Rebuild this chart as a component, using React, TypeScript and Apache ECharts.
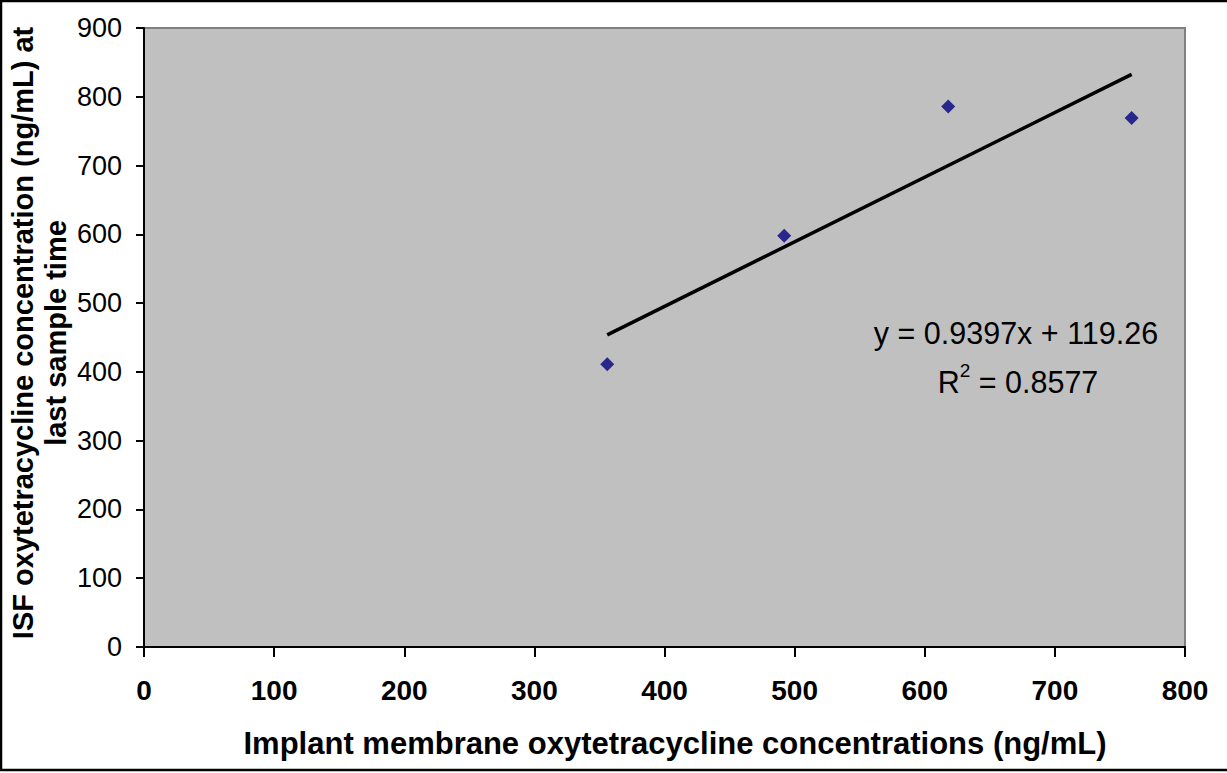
import React, { useEffect, useRef } from "react";
import * as echarts from "echarts";

// Implant membrane vs. ISF oxytetracycline concentrations (ng/mL)
const membraneConc: number[] = [356, 492, 618, 759];
const isfConc: number[] = [411, 598, 786, 769];

// Linear trendline reported on the chart
const slope = 0.9397;
const intercept = 119.26;
const rSquared = "0.8577";

const xTicks = { min: 0, max: 800, interval: 100 };
const yTicks = { min: 0, max: 900, interval: 100 };

const FONT = "'Liberation Sans', Arial, Helvetica, sans-serif";

export default function App() {
  const ref = useRef<HTMLDivElement>(null);

  useEffect(() => {
    if (!ref.current) return;
    const chart = echarts.init(ref.current, null, { renderer: "svg" });

    const xMin = Math.min(...membraneConc);
    const xMax = Math.max(...membraneConc);
    const trend = [
      [xMin, slope * xMin + intercept],
      [xMax, slope * xMax + intercept],
    ];

    chart.setOption({
      animation: false,
      backgroundColor: "#ffffff",
      textStyle: { fontFamily: FONT },
      grid: {
        left: 144,
        top: 28,
        width: 1041,
        height: 619,
        show: true,
        backgroundColor: "#c0c0c0",
        borderColor: "#808080",
        borderWidth: 2,
      },
      xAxis: {
        type: "value",
        min: xTicks.min,
        max: xTicks.max,
        interval: xTicks.interval,
        splitLine: { show: false },
        axisLine: { show: true, onZero: false, lineStyle: { color: "#000", width: 2 } },
        axisTick: { show: true, inside: false, length: 10, lineStyle: { color: "#000", width: 2 } },
        axisLabel: {
          color: "#000",
          fontSize: 28,
          fontWeight: "bold",
          fontFamily: FONT,
          margin: 29,
        },
      },
      yAxis: {
        type: "value",
        min: yTicks.min,
        max: yTicks.max,
        interval: yTicks.interval,
        splitLine: { show: false },
        axisLine: { show: true, onZero: false, lineStyle: { color: "#000", width: 2 } },
        axisTick: { show: true, inside: false, length: 8, lineStyle: { color: "#000", width: 2 } },
        axisLabel: {
          color: "#000",
          fontSize: 27,
          fontFamily: FONT,
          margin: 22,
        },
      },
      series: [
        {
          type: "line",
          data: trend,
          showSymbol: false,
          symbol: "none",
          lineStyle: { color: "#000", width: 3.5 },
          z: 2,
        },
        {
          type: "scatter",
          data: membraneConc.map((x, i) => [x, isfConc[i]]),
          symbol: "diamond",
          symbolSize: [14, 14],
          itemStyle: { color: "#000080" },
          z: 3,
        },
      ],
      graphic: [
        {
          type: "rect",
          shape: { x: 1, y: 1, width: 1240, height: 769 },
          style: { fill: "none", stroke: "#000", lineWidth: 2.5 },
          silent: true,
          z: 10,
        },
        {
          type: "text",
          x: 675,
          y: 743,
          style: {
            text: "Implant membrane oxytetracycline concentrations (ng/mL)",
            fontSize: 31,
            fontWeight: "bold",
            fontFamily: FONT,
            fill: "#000",
            align: "center",
            verticalAlign: "middle",
          },
        },
        {
          type: "text",
          x: 39,
          y: 333,
          rotation: Math.PI / 2,
          style: {
            text: "ISF oxytetracycline concentration (ng/mL) at\nlast sample time",
            fontSize: 29,
            lineHeight: 33,
            fontWeight: "bold",
            fontFamily: FONT,
            fill: "#000",
            align: "center",
            verticalAlign: "middle",
          },
        },
        {
          type: "text",
          x: 1016,
          y: 333,
          style: {
            text: `y = ${slope}x + ${intercept}`,
            fontSize: 30.5,
            fontFamily: FONT,
            fill: "#000",
            align: "center",
            verticalAlign: "middle",
          },
        },
        {
          type: "text",
          x: 1018,
          y: 379,
          style: {
            text: `{r|R}{sup|2}{r| = ${rSquared}}`,
            fontSize: 30.5,
            fontFamily: FONT,
            fill: "#000",
            align: "center",
            verticalAlign: "middle",
            rich: {
              r: { fontSize: 30.5, fontFamily: FONT, fill: "#000", verticalAlign: "bottom", lineHeight: 36 },
              sup: {
                fontSize: 19,
                fontFamily: FONT,
                fill: "#000",
                verticalAlign: "top",
                lineHeight: 36,
                padding: [0, 0, 15, 0],
              },
            },
          },
        },
      ],
    });

    return () => chart.dispose();
  }, []);

  return (
    <div
      ref={ref}
      style={{ position: "absolute", left: 0, top: 0, width: 1227, height: 773 }}
    />
  );
}
